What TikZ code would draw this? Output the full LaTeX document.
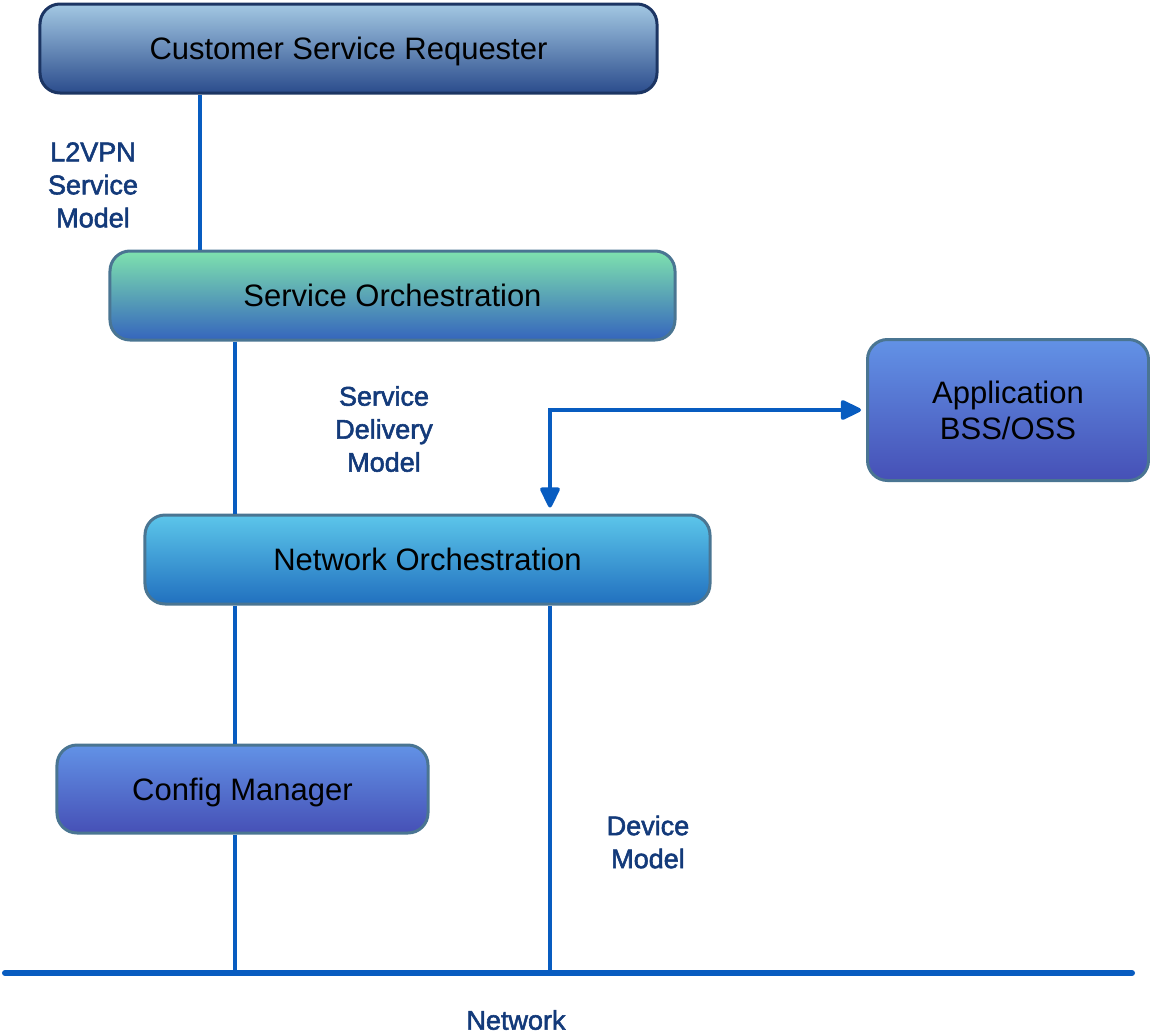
\documentclass[tikz,border=0pt]{standalone}
\usepackage{fontspec}
\setmainfont{Liberation Sans}
\newfontface\tagface{Liberation Sans}[FakeBold=2]
\usetikzlibrary{arrows.meta}

\definecolor{wire}{HTML}{085CC0}
\definecolor{labeltext}{HTML}{133A7A}
\definecolor{edgeA}{HTML}{1C3563}
\definecolor{edgeB}{HTML}{4A7592}
\definecolor{csrtop}{HTML}{A3C8E3}
\definecolor{csrbot}{HTML}{2B4C8C}
\definecolor{sotop}{HTML}{7EE2AE}
\definecolor{sobot}{HTML}{3565BD}
\definecolor{apptop}{HTML}{6292E6}
\definecolor{appbot}{HTML}{4650B6}
\definecolor{notop}{HTML}{5CC6EA}
\definecolor{nobot}{HTML}{2170BF}

\tikzset{
  box/.style={rounded corners=20bp, line width=3bp, draw=edgeB,
    font=\fontsize{31bp}{36bp}\selectfont, text=black, align=center,
    inner sep=0pt},
  onebox/.style={box, text depth=0pt},
  csrbox/.style={onebox, draw=edgeA, top color=csrtop, bottom color=csrbot},
  conn/.style={draw=wire, line width=4bp},
  tag/.style={font=\tagface\fontsize{27bp}{33bp}\selectfont, text=labeltext, align=center, inner sep=0pt},
  bigtri/.tip={Triangle[length=23bp,width=21bp,round]}
}

\begin{document}
\begin{tikzpicture}[x=1bp, y=-1bp]
  \useasboundingbox (0,0) rectangle (1150,1034);

  % layered boxes
  \node[csrbox, minimum width=617bp, minimum height=89bp] (csr) at (348.5,48.5) {Customer Service Requester};
  \node[onebox, top color=sotop, bottom color=sobot, minimum width=565bp, minimum height=89bp] (so) at (392.5,295.5) {Service Orchestration};
  \node[box, top color=apptop, bottom color=appbot, minimum width=281bp, minimum height=141bp] (app) at (1008,410) {Application\\BSS/OSS};
  \node[onebox, top color=notop, bottom color=nobot, minimum width=565bp, minimum height=89bp] (no) at (427.5,559.5) {Network Orchestration};
  \node[onebox, top color=apptop, bottom color=appbot, minimum width=371bp, minimum height=88bp] (cm) at (242.5,789) {Config Manager};

  % column positions and the network bus
  \coordinate (xa) at (200,0);
  \coordinate (xb) at (235,0);
  \coordinate (xc) at (550,0);
  \coordinate (netL) at (5,973);
  \coordinate (netR) at (1132,973);

  \draw[conn] (csr.south -| xa) -- (so.north -| xa);
  \draw[conn] (so.south -| xb) -- (no.north -| xb);
  \draw[conn] (no.south -| xb) -- (cm.north -| xb);
  \draw[conn] (cm.south -| xb) -- (netL -| xb);
  \draw[conn] (no.south -| xc) -- (netL -| xc);
  \draw[conn, line width=6bp, line cap=round] (netL) -- (netR);

  % link between network orchestration and BSS/OSS
  \draw[conn, bigtri-bigtri, shorten <=6bp, shorten >=5bp] (no.north -| xc) |- (app.west);

  % interface labels
  \node[tag] (l2vpn) at (93,185) {L2VPN\\Service\\Model};
  \node[tag] (sdm) at (384,429) {Service\\Delivery\\Model};
  \node[tag] (dm) at (648,842) {Device\\Model};
  \node[tag] (net) at (516,1020) {Network};
\end{tikzpicture}
\end{document}
